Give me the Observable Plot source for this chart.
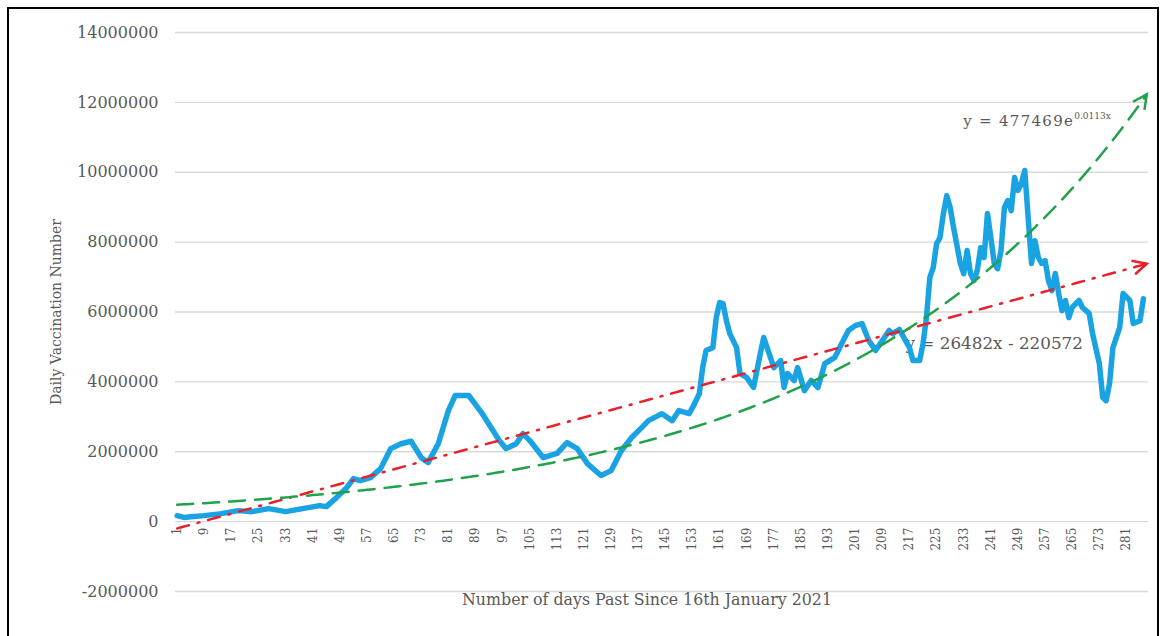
<!DOCTYPE html>
<html><head><meta charset="utf-8">
<script src="https://cdn.jsdelivr.net/npm/d3@7"></script>
<script src="https://cdn.jsdelivr.net/npm/@observablehq/plot@0.6"></script>
<style>
html,body{margin:0;padding:0;background:#fff;}
#wrap{position:relative;width:1162px;height:636px;overflow:hidden;background:#fff;}
#frame{position:absolute;left:7px;top:7px;width:1152px;height:700px;border:2.5px solid #000;box-sizing:border-box;pointer-events:none;}
#chart{position:absolute;left:0;top:0;}
</style></head><body>
<div id="wrap"><div id="chart"></div><div id="frame"></div></div>
<script>
// Day index (days past 16 Jan 2021) and daily vaccinations
const days = [1,3,5,9,14,19,23,28,33,38,43,45,48,51,53,55,58,61,64,67,70,73,75,78,81,83,87,91,96,98,101,103,105,109,113,116,119,122,126,129,132,135,138,140,144,147,149,152,153,155,156,157,159,160,161,162,163,164,166,167,169,171,173,174,175,177,179,180,181,183,184,186,188,190,192,195,197,199,201,203,205,207,209,211,212,214,217,218,220,221,222,223,224,225,226,227,228,229,230,232,233,234,235,236,237,238,239,240,241,242,243,244,245,246,247,248,249,250,251,252,253,254,255,256,257,258,259,260,261,262,263,264,265,267,268,270,271,273,274,275,276,277,279,280,282,283,285,286];
const vaccinations = [170000,120000,140000,172000,229000,315000,286000,372000,286000,372000,458000,430000,687000,973000,1231000,1174000,1260000,1517000,2090000,2230000,2300000,1830000,1690000,2230000,3180000,3610000,3610000,3090000,2320000,2090000,2230000,2520000,2320000,1830000,1950000,2260000,2090000,1660000,1320000,1460000,2030000,2400000,2690000,2890000,3090000,2890000,3180000,3090000,3260000,3660000,4410000,4900000,4980000,5840000,6270000,6240000,5750000,5380000,4980000,4240000,4120000,3840000,4810000,5270000,4980000,4410000,4610000,3840000,4240000,4040000,4410000,3750000,4040000,3840000,4520000,4700000,5100000,5470000,5610000,5670000,5180000,4900000,5180000,5470000,5380000,5500000,4980000,4610000,4610000,5100000,5840000,6990000,7270000,7960000,8130000,8820000,9330000,8990000,8420000,7390000,7100000,7760000,7100000,6900000,7190000,7840000,7560000,8820000,8130000,7390000,7240000,7760000,8990000,9190000,8900000,9850000,9480000,9680000,10050000,8700000,7390000,8040000,7560000,7390000,7470000,6900000,6610000,7100000,6530000,6040000,6330000,5840000,6130000,6330000,6130000,5960000,5380000,4520000,3550000,3460000,3950000,4980000,5550000,6530000,6330000,5670000,5750000,6380000];

// Axis ticks and labels
const yTicks = [-2000000, 0, 2000000, 4000000, 6000000, 8000000, 10000000, 12000000, 14000000];
const xTickLabels = [1,9,17,25,33,41,49,57,65,73,81,89,97,105,113,121,129,137,145,153,161,169,177,185,193,201,209,217,225,233,241,249,257,265,273,281];
const yLabel = "Daily Vaccination Number";
const xLabel = "Number of days Past Since 16th January 2021";

// Trendline equations as printed on the chart
const linearSlope = 26482, linearIntercept = -220572;
const expCoef = 477469, expRate = 0.0113;
const linearLabel = "y = 26482x - 220572";
const expLabelBase = "y = 477469e";
const expLabelExp = "0.0113x";
const lastDay = 287;

const series = days.map((d, i) => ({day: d, value: vaccinations[i]}));
const trendDays = d3.range(1, lastDay + 1);
const lin = d => linearSlope * d + linearIntercept;
const expf = d => expCoef * Math.exp(expRate * d);
const linTrend = trendDays.map(d => ({day: d, value: lin(d)}));
const expTrend = trendDays.map(d => ({day: d, value: expf(d)}));

const gray = "#595959";
const red = "#e8202a", green = "#21a24a", blue = "#1aa3e3";
const chart = Plot.plot({
  width: 1162,
  height: 636,
  marginLeft: 175,
  marginRight: 14,
  marginTop: 32,
  marginBottom: 45,
  style: {fontFamily: "'DejaVu Serif', serif", background: "transparent", color: gray},
  x: {domain: [0.5, lastDay + 0.5], axis: null},
  y: {domain: [-2000000, 14000000], axis: null},
  marks: [
    Plot.gridY(yTicks, {stroke: "#d9d9d9", strokeOpacity: 1, strokeWidth: 1.4}),
    Plot.axisY(yTicks, {tickSize: 0, tickPadding: 17, tickFormat: d => String(d), label: null, fontSize: 16, fill: gray}),
    Plot.text(xTickLabels, {x: d => d, y: 0, text: d => String(d), rotate: -90, textAnchor: "end", lineAnchor: "middle", dy: 6, fontSize: 12, fill: gray}),
    Plot.text([yLabel], {frameAnchor: "left", textAnchor: "middle", dx: -119, rotate: -90, fontSize: 14, fill: gray}),
    Plot.text([xLabel], {frameAnchor: "bottom", textAnchor: "middle", dx: -15, dy: 13, fontSize: 15.8, fill: gray}),
    Plot.text([{d: 265.6, v: 11450000}], {x: "d", y: "v", text: () => expLabelBase, textAnchor: "end", fontSize: 15, fill: gray}),
    Plot.text([{d: 265.6, v: 11450000}], {x: "d", y: "v", text: () => expLabelExp, textAnchor: "start", dy: -5, fontSize: 9, fill: gray}),
    Plot.text([{d: 242, v: 5100000}], {x: "d", y: "v", text: () => linearLabel, textAnchor: "middle", fontSize: 16.8, fill: gray}),
    Plot.line(series, {x: "day", y: "value", stroke: blue, strokeWidth: 5.5, strokeLinejoin: "round"}),
    Plot.line(linTrend, {x: "day", y: "value", stroke: red, strokeWidth: 2.5, strokeDasharray: "12,9,2,9"}),
    Plot.line(expTrend, {x: "day", y: "value", stroke: green, strokeWidth: 2.5, strokeDasharray: "16,10"})
  ]
});

// Open arrowheads at the end of the trendlines (as in the spreadsheet chart)
const svg = d3.select(chart.tagName.toLowerCase() === "svg" ? chart : chart.querySelector("svg"));
const defs = svg.insert("defs", ":first-child");
function addMarker(id, color) {
  defs.append("marker")
    .attr("id", id)
    .attr("viewBox", "-18 -10 20 20")
    .attr("markerWidth", 20).attr("markerHeight", 20)
    .attr("refX", 0).attr("refY", 0)
    .attr("markerUnits", "userSpaceOnUse")
    .attr("orient", "auto")
    .style("overflow", "visible")
    .append("path")
    .attr("d", "M-14,-7L0,0L-14,7")
    .attr("fill", "none")
    .attr("stroke", color)
    .attr("stroke-width", 2.5)
    .attr("stroke-dasharray", "none")
    .attr("stroke-linejoin", "miter");
}
addMarker("arrow-red", red);
addMarker("arrow-green", green);
svg.selectAll(`g[stroke="${red}"] path`).attr("marker-end", "url(#arrow-red)");
svg.selectAll(`g[stroke="${green}"] path`).attr("marker-end", "url(#arrow-green)");
svg.selectAll("text").filter(function() { return this.textContent === expLabelBase; }).style("letter-spacing", "1.3px");

document.getElementById("chart").appendChild(chart);
</script>
</body></html>
